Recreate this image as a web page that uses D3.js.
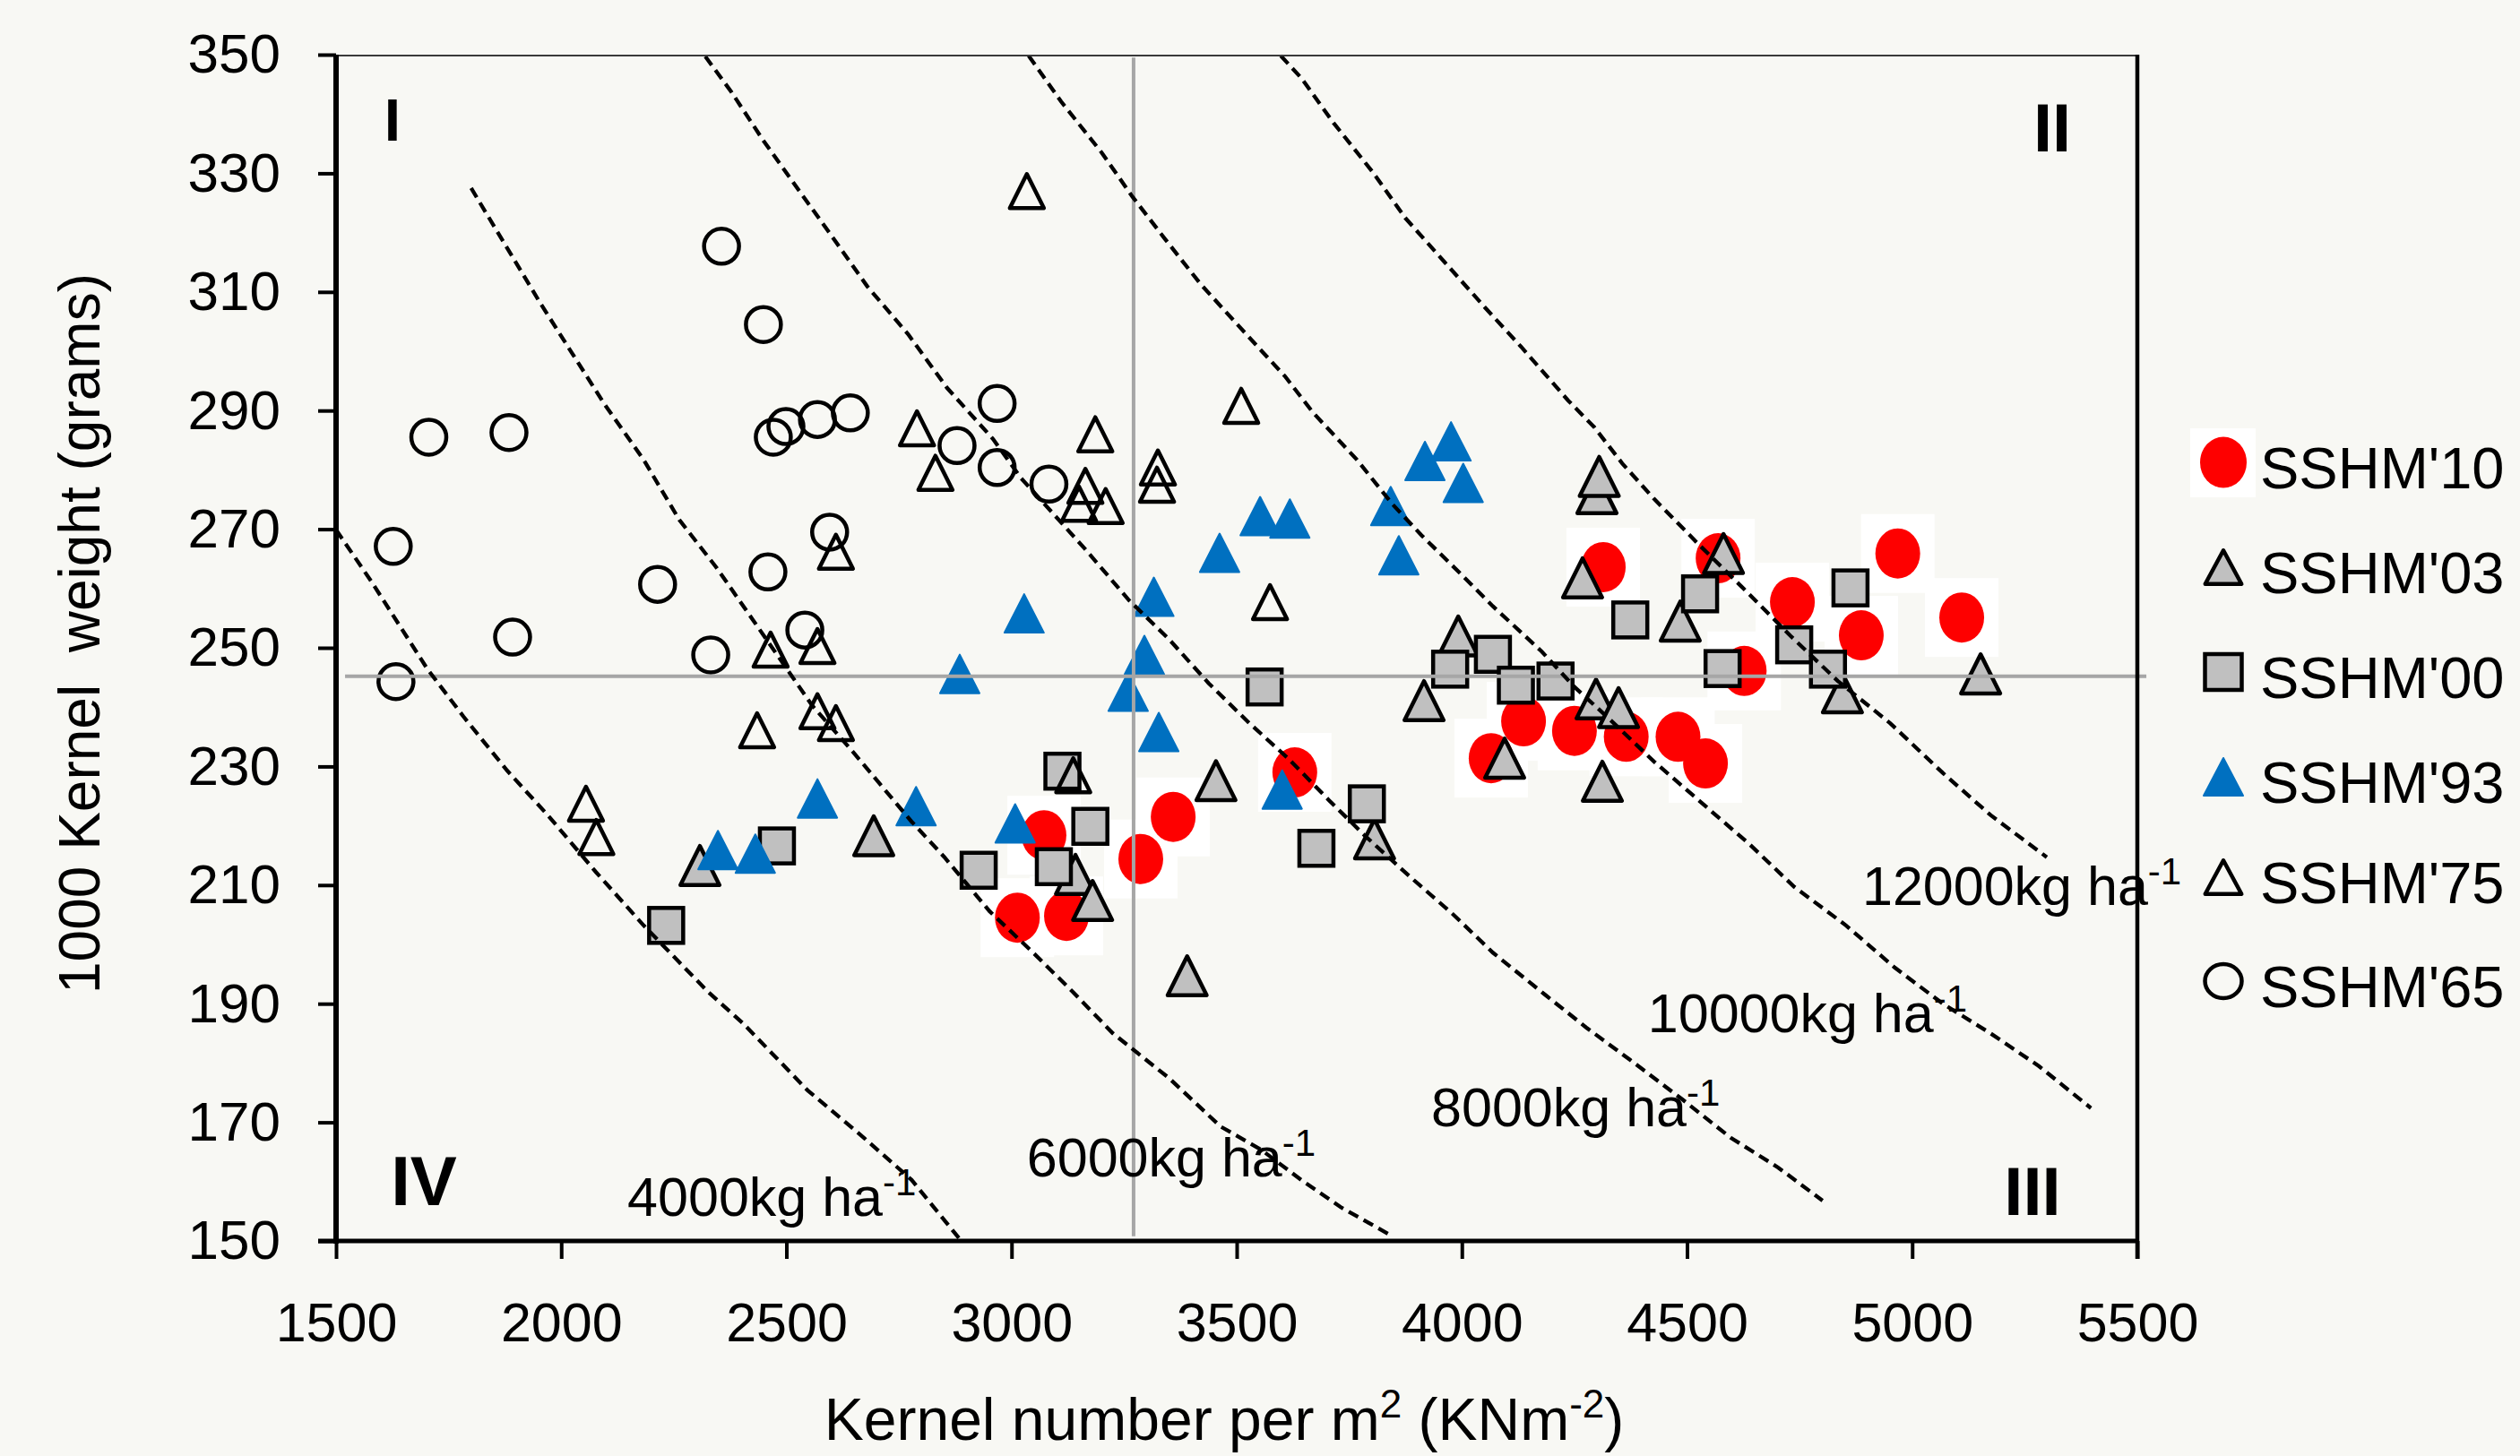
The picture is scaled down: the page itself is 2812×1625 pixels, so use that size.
<!DOCTYPE html>
<html>
<head>
<meta charset="utf-8">
<script src="https://cdn.jsdelivr.net/npm/d3@7"></script>
<style>
  html, body { margin: 0; padding: 0; background: #f8f8f4; }
  svg text { font-family: "Liberation Sans", Arial, sans-serif; fill: #000; }
</style>
</head>
<body>
<div id="chart"></div>
<script>
// kernel number per m2 (KN) vs 1000 kernel weight (g), one list per release year
var seriesNames = ["SSHM'10", "SSHM'03", "SSHM'00", "SSHM'93", "SSHM'75", "SSHM'65"];

var sshm10 = [[3013,204.5],[3122,204.8],[3072,218.4],[3287,214.4],[3359,221.5],[3629,229.0],[4065,231.4],
  [4137,237.6],[4250,236.0],[4365,235.0],[4480,235.0],[4541,230.5],[4314,263.6],[4569,265.1],[4627,246.1],
  [4734,257.7],[4887,252.1],[4968,265.9],[5110,255.1]];

var sshm03 = [[2308,213.3],[2694,218.3],[3142,211.8],[3180,207.4],[3390,194.7],[3454,227.6],[3806,217.8],
  [3916,241.1],[3992,252.0],[4095,231.4],[4268,261.8],[4300,276.0],[4305,278.9],[4298,241.4],[4312,227.5],
  [4348,239.9],[4485,254.5],[4581,265.9],[4845,242.4],[5152,245.6]];

var sshm00 = [[2233,203.2],[2479,216.6],[2927,212.5],[3094,213.1],[3113,229.2],[3175,219.9],[3562,243.4],
  [3677,216.2],[3789,223.7],[3974,246.4],[4069,248.9],[4120,243.7],[4208,244.4],[4374,254.7],[4529,259.1],
  [4579,246.5],[4738,250.5],[4813,246.4],[4863,260.1]];

var sshm93 = [[2348,215.9],[2431,215.3],[2569,224.6],[2788,223.3],[2885,245.6],[3008,220.4],[3028,255.8],
  [3259,242.6],[3295,248.8],[3316,258.6],[3327,235.8],[3462,266.0],[3552,272.2],[3601,226.1],[3618,271.8],
  [3842,273.9],[3860,265.6],[3918,281.5],[3976,284.8],[4003,277.8]];

var sshm75 = [[2055,223.7],[2078,218.1],[2435,236.1],[2465,249.7],[2569,250.3],[2569,239.3],[2610,237.3],
  [2610,266.2],[2790,287.0],[2831,279.5],[3034,327.0],[3137,228.5],[3150,274.3],[3164,277.3],[3186,286.0],
  [3209,273.9],[3323,277.5],[3325,280.4],[3510,290.8],[3574,257.7]];

var sshm65 = [[1627,267.1],[1633,244.3],[1706,285.5],[1884,286.3],[1892,251.8],[2214,260.7],[2332,248.8],
  [2356,317.7],[2449,304.5],[2459,262.8],[2471,285.5],[2499,287.3],[2541,253.0],[2569,288.5],[2596,269.5],
  [2642,289.6],[2879,284.1],[2968,291.2],[2968,280.4],[3083,277.6]];

// yield isolines as drawn (KN, TKW)
var iso4000 = [[1500,269.9],[1580,261.0],[1703,246.4],[1783,238.4],[1880,229.3],[1970,221.8],[2077,212.2],
  [2183,203.2],[2326,192.0],[2405,186.6],[2547,175.4],[2672,167.4],[2778,160.3],[2883,150.5]];
var iso6000 = [[1800,327.5],[1880,317.4],[1952,308.3],[2023,299.8],[2095,291.2],[2183,281.7],[2262,271.6],
  [2344,263.6],[2423,255.0],[2557,240.3],[2644,232.8],[2778,220.7],[2851,214.7],[2951,205.6],[3048,198.6],
  [3136,192.0],[3225,185.0],[3349,177.5],[3464,169.3],[3554,165.4],[3643,160.3],[3731,155.7],[3846,150.8]];
var iso8000 = [[2320,349.7],[2378,343.7],[2449,335.5],[2529,327.0],[2600,319.5],[2680,310.9],[2770,302.9],
  [2857,293.8],[2959,285.2],[3020,278.7],[3164,266.6],[3261,258.0],[3349,251.5],[3438,244.0],[3528,237.3],
  [3615,231.3],[3705,224.3],[3785,218.3],[3882,211.6],[3980,205.1],[4069,198.6],[4185,191.5],[4276,186.0],
  [4374,180.5],[4489,173.9],[4597,167.4],[4702,162.4],[4801,156.8]];
var iso10000 = [[3038,349.8],[3110,342.1],[3200,333.5],[3269,326.0],[3341,318.9],[3420,311.3],[3528,302.3],
  [3607,295.8],[3669,289.7],[3767,281.7],[3846,274.2],[3910,269.0],[3997,262.5],[4069,257.0],[4177,249.4],
  [4250,243.4],[4322,238.4],[4427,230.8],[4535,223.7],[4640,216.8],[4738,209.7],[4853,203.2],[4961,196.1],
  [5068,190.0],[5174,185.0],[5281,179.5],[5397,172.4]];
var iso12000 = [[3598,349.8],[3643,346.1],[3715,338.5],[3803,330.1],[3874,322.5],[3962,315.0],[4051,307.4],
  [4131,300.8],[4236,291.7],[4294,287.2],[4356,281.1],[4427,275.1],[4525,267.5],[4632,259.5],[4730,252.0],
  [4835,244.4],[4951,237.3],[5068,228.9],[5174,221.8],[5299,214.7]];

var isoLabels = ["4000kg ha", "6000kg ha", "8000kg ha", "10000kg ha", "12000kg ha"];
var isoLabelAt = [[2147,154.2],[3034,160.9],[3932,169.3],[4413,185.2],[4889,206.6]];

var meanKN = 3271;
var meanTKW = 245.2;

var xTicks = [1500, 2000, 2500, 3000, 3500, 4000, 4500, 5000, 5500];
var yTicks = [150, 170, 190, 210, 230, 250, 270, 290, 310, 330, 350];
var quadrantLabels = ["I", "II", "III", "IV"];

function triPath(cx, cy, w, h) {
  return "M" + cx + "," + (cy - h / 2) + "L" + (cx + w / 2) + "," + (cy + h / 2) +
    "L" + (cx - w / 2) + "," + (cy + h / 2) + "Z";
}

function init() {
  var width = 2812, height = 1625;
  var font = "'Liberation Sans', Arial, sans-serif";

  var svg = d3.select("#chart").append("svg")
    .attr("width", width)
    .attr("height", height);

  svg.append("rect")
    .attr("width", width)
    .attr("height", height)
    .attr("fill", "#f8f8f4");

  var x = d3.scaleLinear().domain([1500, 5500]).range([375, 2385]);
  var y = d3.scaleLinear().domain([150, 350]).range([1385, 61]);

  // white boxes sitting behind the red markers (as in the original figure)
  svg.append("g").selectAll("rect")
    .data(sshm10)
    .enter().append("rect")
      .attr("x", function(d) { return x(d[0]) - 41; })
      .attr("y", function(d) { return y(d[1]) - 44; })
      .attr("width", 82)
      .attr("height", 88)
      .attr("fill", "#ffffff");

  svg.append("g").selectAll("ellipse")
    .data(sshm10)
    .enter().append("ellipse")
      .attr("cx", function(d) { return x(d[0]); })
      .attr("cy", function(d) { return y(d[1]); })
      .attr("rx", 25)
      .attr("ry", 28)
      .attr("fill", "#fe0000");

  svg.append("g").selectAll("path")
    .data(sshm03)
    .enter().append("path")
      .attr("d", function(d) { return triPath(x(d[0]), y(d[1]), 43.5, 43.5); })
      .attr("fill", "#c0c0c0")
      .attr("stroke", "#000")
      .attr("stroke-width", 4.5)
      .attr("stroke-linejoin", "round");

  svg.append("g").selectAll("rect")
    .data(sshm00)
    .enter().append("rect")
      .attr("x", function(d) { return x(d[0]) - 19; })
      .attr("y", function(d) { return y(d[1]) - 19.5; })
      .attr("width", 38)
      .attr("height", 39)
      .attr("fill", "#c0c0c0")
      .attr("stroke", "#000")
      .attr("stroke-width", 4.5);

  svg.append("g").selectAll("path")
    .data(sshm93)
    .enter().append("path")
      .attr("d", function(d) { return triPath(x(d[0]), y(d[1]), 44, 43); })
      .attr("fill", "#0070c0")
      .attr("stroke", "#0070c0")
      .attr("stroke-width", 2)
      .attr("stroke-linejoin", "round");

  svg.append("g").selectAll("path")
    .data(sshm75)
    .enter().append("path")
      .attr("d", function(d) { return triPath(x(d[0]), y(d[1]), 38, 38); })
      .attr("fill", "none")
      .attr("stroke", "#000")
      .attr("stroke-width", 4.5)
      .attr("stroke-linejoin", "round");

  svg.append("g").selectAll("circle")
    .data(sshm65)
    .enter().append("circle")
      .attr("cx", function(d) { return x(d[0]); })
      .attr("cy", function(d) { return y(d[1]); })
      .attr("r", 19.5)
      .attr("fill", "none")
      .attr("stroke", "#000")
      .attr("stroke-width", 4.5);

  // mean lines
  svg.append("line")
    .attr("x1", x(1520)).attr("x2", x(5520))
    .attr("y1", y(meanTKW)).attr("y2", y(meanTKW))
    .attr("stroke", "#a6a6a6")
    .attr("stroke-width", 4);

  svg.append("line")
    .attr("x1", x(meanKN)).attr("x2", x(meanKN))
    .attr("y1", y(349.5)).attr("y2", y(150.8))
    .attr("stroke", "#a6a6a6")
    .attr("stroke-width", 4);

  // yield isolines
  var line = d3.line()
    .x(function(d) { return x(d[0]); })
    .y(function(d) { return y(d[1]); });

  svg.append("g").selectAll("path")
    .data([iso4000, iso6000, iso8000, iso10000, iso12000])
    .enter().append("path")
      .attr("d", line)
      .attr("fill", "none")
      .attr("stroke", "#000")
      .attr("stroke-width", 4.3)
      .attr("stroke-dasharray", "12,7");

  var isoText = svg.append("g").selectAll("text")
    .data(isoLabels)
    .enter().append("text")
      .attr("x", function(d, i) { return x(isoLabelAt[i][0]); })
      .attr("y", function(d, i) { return y(isoLabelAt[i][1]); })
      .style("font-size", "61px");

  isoText.append("tspan").text(function(d) { return d; });
  isoText.append("tspan")
    .attr("dy", -23)
    .style("font-size", "42px")
    .text("-1");

  // frame
  svg.append("line")
    .attr("x1", 375).attr("x2", 2385).attr("y1", 62).attr("y2", 62)
    .attr("stroke", "#3a3a3a").attr("stroke-width", 2);
  svg.append("line")
    .attr("x1", 2385).attr("x2", 2385).attr("y1", 61).attr("y2", 1405)
    .attr("stroke", "#000").attr("stroke-width", 4.5);

  var yAxis = d3.axisLeft(y)
    .tickValues(yTicks)
    .tickSize(20)
    .tickSizeOuter(0)
    .tickPadding(42);

  var gy = svg.append("g")
    .attr("transform", "translate(375,0)")
    .call(yAxis)
    .attr("font-family", font)
    .attr("font-size", 62);
  gy.select(".domain").attr("stroke-width", 6).attr("d", "M0,1388V61");
  gy.selectAll(".tick line").attr("stroke-width", 4);

  var xAxis = d3.axisBottom(x)
    .tickValues(xTicks)
    .tickFormat(d3.format("d"))
    .tickSize(20)
    .tickSizeOuter(0)
    .tickPadding(49);

  var gx = svg.append("g")
    .attr("transform", "translate(0,1385)")
    .call(xAxis)
    .attr("font-family", font)
    .attr("font-size", 61);
  gx.select(".domain").attr("stroke-width", 5).attr("d", "M355,0H2387");
  gx.selectAll(".tick line").attr("stroke-width", 4);

  // axis titles
  var xt = svg.append("text")
    .attr("x", 1366)
    .attr("y", 1607)
    .attr("text-anchor", "middle")
    .style("font-size", "66px");
  xt.append("tspan").text("Kernel number per m");
  xt.append("tspan").attr("dy", -25).style("font-size", "44px").text("2");
  xt.append("tspan").attr("dy", 25).text(" (KNm");
  xt.append("tspan").attr("dy", -25).style("font-size", "44px").text("-2");
  xt.append("tspan").attr("dy", 25).text(")");

  svg.append("text")
    .attr("transform", "translate(111,707) rotate(-90)")
    .attr("text-anchor", "middle")
    .style("font-size", "64px")
    .style("white-space", "pre")
    .attr("xml:space", "preserve")
    .text("1000 Kernel  weight (grams)");

  // quadrant labels
  var quads = [
    {x: 438, y: 157, s: 66},
    {x: 2290, y: 169, s: 76},
    {x: 2268, y: 1356, s: 76},
    {x: 473, y: 1345, s: 78}
  ];
  svg.append("g").selectAll("text")
    .data(quads)
    .enter().append("text")
      .attr("x", function(d) { return d.x; })
      .attr("y", function(d) { return d.y; })
      .attr("text-anchor", "middle")
      .style("font-weight", "bold")
      .style("font-size", function(d) { return d.s + "px"; })
      .text(function(d, i) { return quadrantLabels[i]; });

  // legend
  var lx = 2481;
  var ly = [516, 633, 750, 867, 979, 1095];
  var legend = svg.append("g");

  legend.append("rect")
    .attr("x", lx - 37).attr("y", ly[0] - 38)
    .attr("width", 73).attr("height", 77)
    .attr("fill", "#ffffff");
  legend.append("ellipse")
    .attr("cx", lx).attr("cy", ly[0])
    .attr("rx", 26).attr("ry", 28.5)
    .attr("fill", "#fe0000");
  legend.append("path")
    .attr("d", triPath(lx, ly[1], 40.5, 37.5))
    .attr("fill", "#c0c0c0").attr("stroke", "#000")
    .attr("stroke-width", 4.5).attr("stroke-linejoin", "round");
  legend.append("rect")
    .attr("x", lx - 20.5).attr("y", ly[2] - 20)
    .attr("width", 41).attr("height", 40)
    .attr("fill", "#c0c0c0").attr("stroke", "#000").attr("stroke-width", 4.5);
  legend.append("path")
    .attr("d", triPath(lx, ly[3], 44, 42))
    .attr("fill", "#0070c0").attr("stroke", "#0070c0")
    .attr("stroke-width", 2).attr("stroke-linejoin", "round");
  legend.append("path")
    .attr("d", triPath(lx, ly[4], 40.5, 37.5))
    .attr("fill", "none").attr("stroke", "#000")
    .attr("stroke-width", 4.5).attr("stroke-linejoin", "round");
  legend.append("ellipse")
    .attr("cx", lx).attr("cy", ly[5])
    .attr("rx", 20.5).attr("ry", 19)
    .attr("fill", "none").attr("stroke", "#000").attr("stroke-width", 4.5);

  legend.selectAll("text")
    .data(seriesNames)
    .enter().append("text")
      .attr("x", 2522)
      .attr("y", function(d, i) { return ly[i] + 29; })
      .style("font-size", "65px")
      .text(function(d) { return d; });
}

window.onload = init;
</script>
</body>
</html>
